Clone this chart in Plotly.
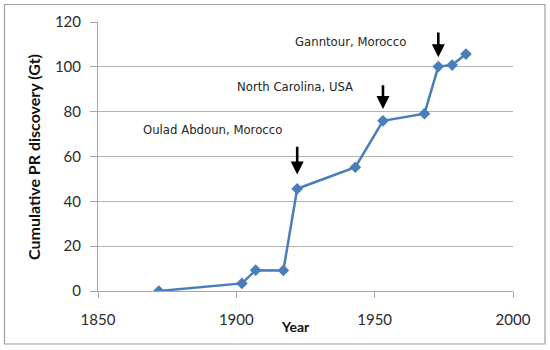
import plotly.graph_objects as go

years = [1872, 1902, 1907, 1917, 1922, 1943, 1953, 1968, 1973, 1978, 1983]
cumulative_gt = [0, 3.4, 9.3, 9.2, 45.6, 55.2, 75.9, 79.1, 100.1, 100.8, 105.7]

labels = ["Oulad Abdoun, Morocco", "North Carolina, USA", "Ganntour, Morocco"]
label_x = [1891.5, 1921.2, 1941.1]
label_y = [71.9, 91.0, 111.1]
arrow_x = [1922, 1953, 1973]
arrow_tail = [65, 92.5, 116]
arrow_head = [52, 81.2, 104.3]

x_ticks = [1850, 1900, 1950, 2000]
y_ticks = [0, 20, 40, 60, 80, 100, 120]

FONT = "Lato, 'Open Sans', sans-serif"
L, R, T, B = 98, 513, 22, 291
PW, PH = R - L, B - T


def px_x(p):
    return (p - L) / PW


def px_y(p):
    return (B - p) / PH


fig = go.Figure()
fig.add_trace(go.Scatter(
    x=years, y=cumulative_gt, mode="lines+markers",
    line=dict(color="#4a7ebb", width=2.5),
    marker=dict(symbol="diamond", size=9, color="#4a7ebb"),
    showlegend=False, hoverinfo="skip",
))

for t, lx, ly in zip(labels, label_x, label_y):
    fig.add_annotation(x=lx, y=ly, xref="x", yref="y", text=t, showarrow=False,
                       font=dict(family="DejaVu Sans", size=11.7, color="#262626"))

for ax_, tail, head in zip(arrow_x, arrow_tail, arrow_head):
    fig.add_annotation(x=ax_, y=head, ax=ax_, ay=tail, xref="x", yref="y",
                       axref="x", ayref="y", text="", showarrow=True,
                       arrowhead=2, arrowsize=1.0, arrowwidth=2.6, arrowcolor="black")

fig.update_layout(
    width=550, height=350,
    margin=dict(l=L, r=550 - R, t=T, b=350 - B),
    paper_bgcolor="white", plot_bgcolor="white",
    font=dict(family=FONT, size=15, color="#333333"),
    xaxis=dict(range=[1850, 2000], tickvals=x_ticks, showgrid=False,
               showline=True, linecolor="#a6a6a6", linewidth=1,
               ticks="outside", ticklen=6, tickcolor="#a6a6a6",
               ticklabelstandoff=9,
               tickfont=dict(family=FONT, size=15, color="#2b2b2b"),
               zeroline=False, fixedrange=True, automargin=False),
    yaxis=dict(range=[0, 120], tickvals=y_ticks, showgrid=True,
               gridcolor="#b3b3b3", gridwidth=1,
               showline=True, linecolor="#a6a6a6", linewidth=1,
               ticks="outside", ticklen=7, tickcolor="#a6a6a6",
               ticklabelstandoff=6,
               tickfont=dict(family=FONT, size=15, color="#2b2b2b"),
               zeroline=False, fixedrange=True, automargin=False),
)

fig.add_annotation(x=px_x(33), y=px_y(157), xref="paper", yref="paper",
                   xanchor="center", yanchor="middle",
                   text="<b>Cumulative PR discovery (Gt)</b>", textangle=-90,
                   showarrow=False, font=dict(family=FONT, size=16, color="#111111"))
fig.add_annotation(x=px_x(295.5), y=px_y(326), xref="paper", yref="paper",
                   xanchor="center", yanchor="middle",
                   text="<b>Year</b>", showarrow=False,
                   font=dict(family=FONT, size=14, color="#111111"))

fig.add_shape(type="rect", xref="paper", yref="paper",
              x0=px_x(4.5), x1=px_x(545), y0=px_y(344), y1=px_y(4.5),
              line=dict(color="#a0a0a0", width=1.2), fillcolor="rgba(0,0,0,0)")

fig.write_html("out.html", config={"displayModeBar": False},
               post_script="document.body.style.margin='0';")
